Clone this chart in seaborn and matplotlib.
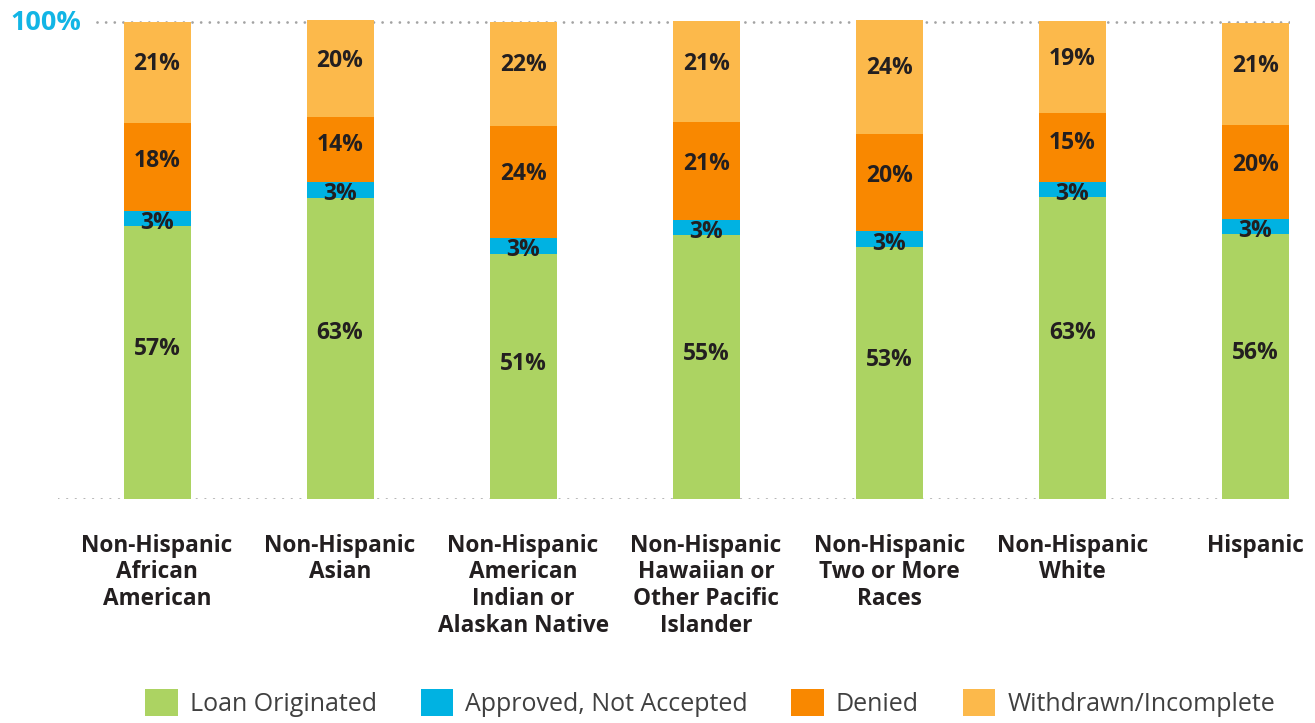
import matplotlib
matplotlib.use("Agg")
import matplotlib.pyplot as plt
import matplotlib.transforms as mtransforms
from matplotlib.patches import Patch
import seaborn as sns
import numpy as np

categories = [
    "Non-Hispanic\nAfrican\nAmerican",
    "Non-Hispanic\nAsian",
    "Non-Hispanic\nAmerican\nIndian or\nAlaskan Native",
    "Non-Hispanic\nHawaiian or\nOther Pacific\nIslander",
    "Non-Hispanic\nTwo or More\nRaces",
    "Non-Hispanic\nWhite",
    "Hispanic",
]
series_names = ["Loan Originated", "Approved, Not Accepted", "Denied", "Withdrawn/Incomplete"]
loan_originated = [57.2, 63.2, 51.4, 55.4, 52.8, 63.3, 55.6]
approved_not_accepted = [3.2, 3.2, 3.4, 3.0, 3.4, 3.1, 3.1]
denied = [18.4, 13.6, 23.5, 20.6, 20.3, 14.6, 19.7]
withdrawn_incomplete = [21.2, 20.4, 21.7, 21.2, 23.9, 19.3, 21.4]
top_tick_label = "100%"

colors = ["#acd362", "#00b2e2", "#f98800", "#fcb94b"]
text_dark = "#231f20"

sns.set_theme(style="white")
plt.rcParams["font.family"] = ["Open Sans", "DejaVu Sans"]

W, H = 1315, 723
fig = plt.figure(figsize=(W / 100, H / 100), dpi=100)
x_left, x_right = 58, 1290
y_zero, px_per_pct = 499, 4.77
y_top_lim = 103
ax_top_px = y_zero - y_top_lim * px_per_pct
ax = fig.add_axes([x_left / W, 1 - y_zero / H, (x_right - x_left) / W, (y_zero - ax_top_px) / H])

series = [loan_originated, approved_not_accepted, denied, withdrawn_incomplete]
arr = np.array(series)
cum = np.cumsum(arr, axis=0)

for k in range(3, -1, -1):
    sns.barplot(x=list(range(len(categories))), y=cum[k], color=colors[k], width=0.366,
                saturation=1, errorbar=None, ax=ax, linewidth=0, zorder=2)

ax.set_xlim(-0.541, 6.19)
ax.set_ylim(0, y_top_lim)

dot = (0, (0.01, 3.1))
ax.axhline(0, color="#a3a3a3", linestyle=dot, linewidth=2.0, zorder=1,
           dash_capstyle="round")
ax.axhline(100, xmin=(97 - x_left) / (x_right - x_left), color="#a3a3a3",
           linestyle=dot, linewidth=2.0, zorder=1, dash_capstyle="round")

fracs = [0.55, 0.22, 0.57, 0.58]
for k in range(4):
    bottoms = cum[k] - arr[k]
    for i, v in enumerate(arr[k]):
        ax.text(i, bottoms[i] + v * fracs[k], f"{int(v + 0.5)}%", ha="center", va="center",
                fontsize=16.5, fontweight="bold", color=text_dark, zorder=3)

trans = mtransforms.blended_transform_factory(fig.transFigure, ax.transData)
ax.text(81 / W, 99.8, top_tick_label, transform=trans, ha="right", va="center",
        fontsize=19.5, fontweight="bold", color="#12b5e5")

ax.set_xticks(range(len(categories)))
ax.set_xticklabels(categories, fontsize=16.3, fontweight="bold", color=text_dark,
                   linespacing=1.15, va="top")
ax.tick_params(axis="x", length=0, pad=25)
ax.set_yticks([])
for s in ax.spines.values():
    s.set_visible(False)
ax.set_xlabel("")
ax.set_ylabel("")

handles = [Patch(facecolor=c, edgecolor="none") for c in colors]
leg = fig.legend(handles, series_names, loc="lower center", ncol=4, frameon=False,
                 fontsize=18, handlelength=1.3, handleheight=1.3, handletextpad=0.48,
                 columnspacing=1.75, bbox_to_anchor=(0.540, -0.023))
for t in leg.get_texts():
    t.set_color("#404040")

fig.savefig("out.png", dpi=100)
